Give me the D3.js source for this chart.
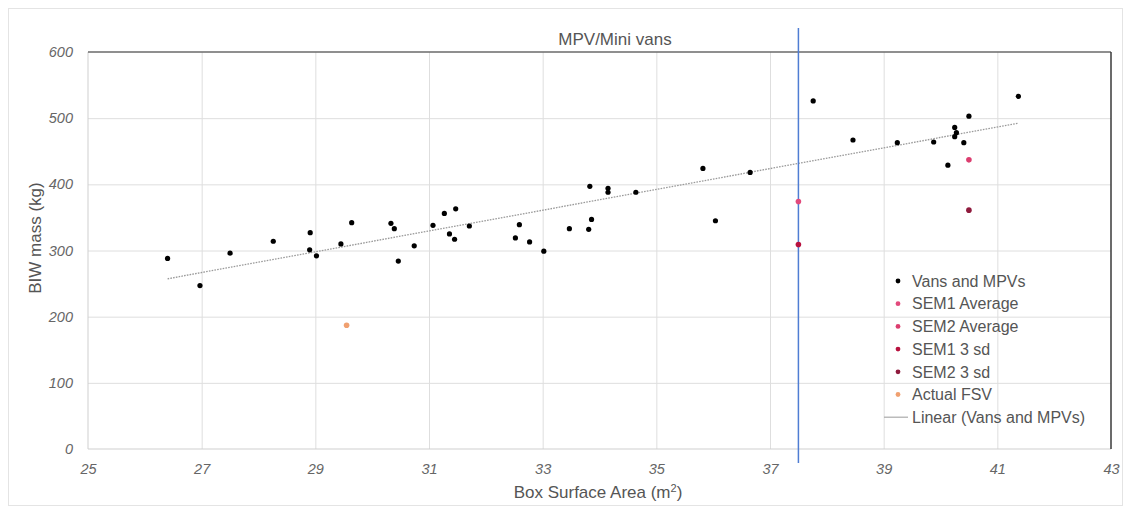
<!DOCTYPE html>
<html>
<head>
<meta charset="utf-8">
<script src="https://cdn.jsdelivr.net/npm/d3@7"></script>
<style>
  html, body { margin: 0; padding: 0; background: #fff; }
  svg { display: block; font-family: "Liberation Sans", Arial, sans-serif; }
</style>
</head>
<body>
<svg id="chart" width="1131" height="510"></svg>
<script>
// Vans and MPVs: box surface area (m²) vs BIW mass (kg)
const vansArea = [26.40, 26.97, 27.50, 28.26, 28.91, 28.90, 29.02, 29.45, 29.64, 30.33,
                  30.39, 30.46, 30.74, 31.07, 31.27, 31.47, 31.36, 31.45, 31.71, 32.59,
                  32.52, 32.77, 33.02, 33.47, 33.83, 33.86, 33.81, 34.15, 34.15, 34.64,
                  35.82, 36.04, 36.65, 37.76, 38.46, 39.24, 39.88, 40.25, 40.28, 40.25,
                  40.50, 40.41, 40.13, 41.37];
const vansMass = [288, 247, 296, 314, 327, 301, 292, 310, 342, 341,
                  333, 284, 307, 338, 356, 363, 325, 317, 337, 339,
                  319, 313, 299, 333, 397, 347, 332, 394, 388, 388,
                  424, 345, 418, 526, 467, 463, 464, 486, 478, 472,
                  503, 463, 429, 533];

// Design points
const seriesNames = ["SEM1 Average", "SEM2 Average", "SEM1 3 sd", "SEM2 3 sd", "Actual FSV"];
const seriesArea  = [37.5, 40.5, 37.5, 40.5, 29.55];
const seriesMass  = [374, 437, 309, 361, 187];
const seriesColor = ["#e24a7c", "#dc3d6f", "#b8123f", "#8f1a3d", "#f0a070"];

const xTicks = [25, 27, 29, 31, 33, 35, 37, 39, 41, 43];
const yTicks = [0, 100, 200, 300, 400, 500, 600];
const markerLine = 37.5;

const chartTitle = "MPV/Mini vans";
const xTitle = "Box Surface Area (m";
const yTitle = "BIW mass (kg)";
const legendNames = ["Vans and MPVs"].concat(seriesNames.slice(0, 5), ["Linear (Vans and MPVs)"]);

const svg = d3.select("#chart");
const plot = { left: 88, right: 1111, top: 52, bottom: 449 };

const x = d3.scaleLinear().domain([25, 43]).range([plot.left, plot.right]);
const y = d3.scaleLinear().domain([0, 600]).range([plot.bottom, plot.top]);

// chart area frame
svg.append("rect")
  .attr("x", 8.5).attr("y", 8.5).attr("width", 1114).attr("height", 497)
  .attr("fill", "#fff").attr("stroke", "#e4e4e4");

// gridlines
svg.append("g")
  .attr("transform", `translate(0,${plot.bottom})`)
  .call(d3.axisBottom(x).tickValues(xTicks.slice(1, -1)).tickSize(-(plot.bottom - plot.top)).tickFormat(""))
  .call(g => g.select(".domain").remove())
  .call(g => g.selectAll("line").attr("stroke", "#dedede"));
svg.append("g")
  .attr("transform", `translate(${plot.left},0)`)
  .call(d3.axisLeft(y).tickValues(yTicks.slice(1, -1)).tickSize(-(plot.right - plot.left)).tickFormat(""))
  .call(g => g.select(".domain").remove())
  .call(g => g.selectAll("line").attr("stroke", "#dedede"));

// plot borders
svg.append("line").attr("x1", plot.left).attr("x2", plot.left).attr("y1", plot.top).attr("y2", plot.bottom)
  .attr("stroke", "#cfcfcf");
svg.append("line").attr("x1", plot.left).attr("x2", plot.right).attr("y1", plot.bottom).attr("y2", plot.bottom)
  .attr("stroke", "#cfcfcf");
svg.append("line").attr("x1", plot.left).attr("x2", plot.right).attr("y1", plot.top).attr("y2", plot.top)
  .attr("stroke", "#6a6a6a").attr("stroke-width", 1.3);
svg.append("line").attr("x1", plot.right).attr("x2", plot.right).attr("y1", plot.top).attr("y2", plot.bottom)
  .attr("stroke", "#3a3a3a").attr("stroke-width", 1.5);

// tick labels
const xAxis = svg.append("g")
  .attr("transform", `translate(0,${plot.bottom})`)
  .call(d3.axisBottom(x).tickValues(xTicks).tickSize(0).tickPadding(15));
xAxis.select(".domain").remove();
xAxis.selectAll("text")
  .attr("font-size", 14.5).attr("font-style", "italic").attr("fill", "#666")
  .attr("font-family", "Liberation Sans, Arial, sans-serif");

const yAxis = svg.append("g")
  .attr("transform", `translate(${plot.left},0)`)
  .call(d3.axisLeft(y).tickValues(yTicks).tickSize(0).tickPadding(15));
yAxis.select(".domain").remove();
yAxis.selectAll("text")
  .attr("font-size", 14.5).attr("font-style", "italic").attr("fill", "#666")
  .attr("font-family", "Liberation Sans, Arial, sans-serif");

// trendline: least-squares fit over the vans data
const n = vansArea.length;
const mx = d3.mean(vansArea), my = d3.mean(vansMass);
let sxy = 0, sxx = 0;
for (let i = 0; i < n; i++) {
  sxy += (vansArea[i] - mx) * (vansMass[i] - my);
  sxx += (vansArea[i] - mx) ** 2;
}
const slope = sxy / sxx, intercept = my - slope * mx;
const [xMin, xMax] = d3.extent(vansArea);
svg.append("path")
  .datum([xMin, xMax])
  .attr("d", d3.line().x(d => x(d)).y(d => y(intercept + slope * d)))
  .attr("fill", "none").attr("stroke", "#9a9a9a").attr("stroke-width", 1.3)
  .attr("stroke-dasharray", "1.6,1.2");

// reference line
svg.append("line")
  .attr("x1", x(markerLine)).attr("x2", x(markerLine))
  .attr("y1", 28).attr("y2", 463)
  .attr("stroke", "#4f7dd3").attr("stroke-width", 1.5);

// vans points
svg.append("g").selectAll("circle")
  .data(d3.range(n))
  .join("circle")
  .attr("cx", i => x(vansArea[i])).attr("cy", i => y(vansMass[i]))
  .attr("r", 2.6).attr("fill", "#000");

// design points
svg.append("g").selectAll("circle")
  .data(d3.range(seriesNames.length))
  .join("circle")
  .attr("cx", i => x(seriesArea[i])).attr("cy", i => y(seriesMass[i]))
  .attr("r", 2.8).attr("fill", i => seriesColor[i]);

// title
svg.append("text")
  .attr("x", 615).attr("y", 45).attr("text-anchor", "middle")
  .attr("font-size", 17).attr("fill", "#555")
  .text(chartTitle);

// axis titles
const xt = svg.append("text")
  .attr("x", 598).attr("y", 498).attr("text-anchor", "middle")
  .attr("font-size", 17).attr("fill", "#555");
xt.append("tspan").text(xTitle);
xt.append("tspan").attr("font-size", 11).attr("dy", -6).text("2");
xt.append("tspan").attr("dy", 6).text(")");

svg.append("text")
  .attr("transform", "translate(41,238) rotate(-90)")
  .attr("text-anchor", "middle")
  .attr("font-size", 17).attr("fill", "#555")
  .text(yTitle);

// legend
const legendColors = ["#000"].concat(seriesColor);
const lg = svg.append("g");
legendNames.forEach((name, i) => {
  const yy = 281 + i * 22.7;
  if (i < legendNames.length - 1) {
    lg.append("circle").attr("cx", 898).attr("cy", yy).attr("r", 2.4).attr("fill", legendColors[i]);
  } else {
    lg.append("line").attr("x1", 884).attr("x2", 908).attr("y1", yy).attr("y2", yy)
      .attr("stroke", "#aaa").attr("stroke-width", 1.2);
  }
  lg.append("text").attr("x", 912).attr("y", yy).attr("dy", "0.36em")
    .attr("font-size", 16).attr("fill", "#555").text(name);
});
</script>
</body>
</html>
